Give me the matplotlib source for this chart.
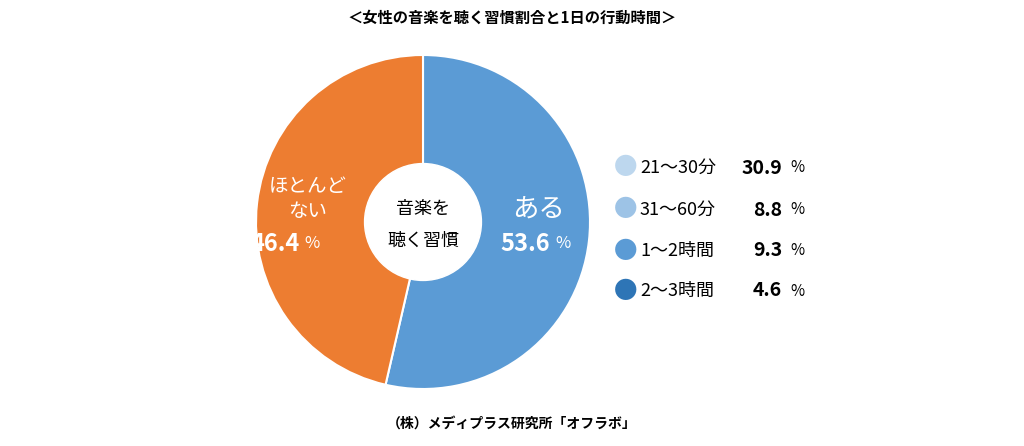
import matplotlib.pyplot as plt

plt.rcParams['font.family'] = ['Noto Sans CJK JP', 'DejaVu Sans']

labels = ["ある", "ほとんど\nない"]
shares = [53.6, 46.4]
pie_colors = ["#5b9bd5", "#ed7d31"]

legend_labels = ["21〜30分", "31〜60分", "1〜2時間", "2〜3時間"]
legend_values = [30.9, 8.8, 9.3, 4.6]
legend_colors = ["#bdd7ee", "#9dc3e6", "#5b9bd5", "#2e75b6"]

W, H = 1024, 446
fig = plt.figure(figsize=(W / 100, H / 100), dpi=100)

cx, cy, r = 423, 222, 167
ax = fig.add_axes([(cx - r) / W, (H - cy - r) / H, 2 * r / W, 2 * r / H])
ax.pie(shares, colors=pie_colors, startangle=90, counterclock=False,
       wedgeprops=dict(edgecolor="white", linewidth=1.5))
ax.add_patch(plt.Circle((0, 0), 0.35, color="white", zorder=5))
ax.set_xlim(-1, 1)
ax.set_ylim(-1, 1)
ax.set_aspect("equal")
ax.axis("off")

ax.text(0, 0.08, "音楽を", ha="center", va="center", fontsize=13, zorder=6)
ax.text(0, -0.11, "聴く習慣", ha="center", va="center", fontsize=13, zorder=6)

ax.text(0.69, 0.08, labels[0], ha="center", va="center", fontsize=19, color="white")
ax.text(0.69, -0.13, f"{shares[0]}", ha="right", va="center", fontsize=17,
        color="white", fontweight="bold", x=0.78) if False else None
ax.text(0.76, -0.13, f"{shares[0]}", ha="right", va="center", fontsize=17,
        color="white", fontweight="bold")
ax.text(0.79, -0.13, "%", ha="left", va="center", fontsize=12, color="white")

ax.text(-0.69, 0.14, labels[1], ha="center", va="center", fontsize=14,
        color="white", linespacing=1.25)
ax.text(-0.74, -0.13, f"{shares[1]}", ha="right", va="center", fontsize=17,
        color="white", fontweight="bold")
ax.text(-0.71, -0.13, "%", ha="left", va="center", fontsize=12, color="white")

ys = [168, 210, 251, 291]
for lab, val, col, y in zip(legend_labels, legend_values, legend_colors, ys):
    yf = 1 - y / H
    fig.text(626 / W, yf, "●", color=col, fontsize=17, ha="center", va="center")
    fig.text(640 / W, yf, lab, fontsize=13, ha="left", va="center")
    fig.text(782 / W, yf, f"{val}", fontsize=14, fontweight="bold", ha="right", va="center")
    fig.text(790 / W, yf, "%", fontsize=11, ha="left", va="center")

fig.text(0.5, 1 - 18 / H, "＜女性の音楽を聴く習慣割合と1日の行動時間＞", ha="center",
         va="center", fontsize=11, fontweight="bold")
fig.text(0.5, 1 - 424 / H, "（株）メディプラス研究所「オフラボ」", ha="center",
         va="center", fontsize=10, fontweight="bold")

fig.savefig("out.png", dpi=100)
